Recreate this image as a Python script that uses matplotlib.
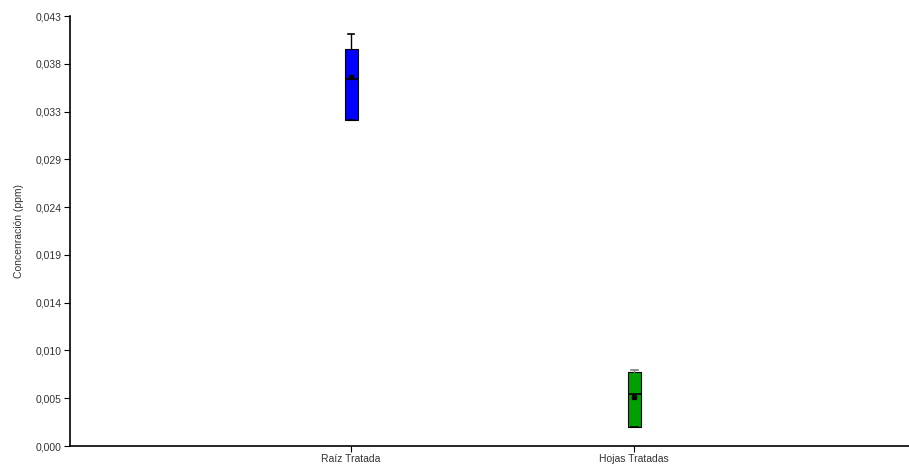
import matplotlib
matplotlib.use("Agg")
import matplotlib.pyplot as plt
import numpy as np

plt.rcParams['font.family'] = ['Liberation Sans', 'DejaVu Sans']

# Resumen de las cajas por muestra
muestras = ["Raíz Tratada", "Hojas Tratadas"]
minimos = [0.0326, 0.0019]
q1 = [0.0326, 0.0019]
medianas = [0.0367, 0.0052]
medias = [0.0369, 0.0049]
q3 = [0.0397, 0.0074]
maximos = [0.0412, 0.0076]
colores = ["#0000ff", "#00a000"]

y_max = 0.043
n_ticks = 10

fig = plt.figure(figsize=(9.09, 4.68), dpi=100)
ax = fig.add_axes([70 / 909, 22 / 468, 839 / 909, 430 / 468])

stats = []
for i, nombre in enumerate(muestras):
    stats.append({
        "label": nombre,
        "whislo": minimos[i],
        "q1": q1[i],
        "med": medianas[i],
        "mean": medias[i],
        "q3": q3[i],
        "whishi": maximos[i],
    })

bp = ax.bxp(stats, positions=[1, 2], widths=0.046, patch_artist=True,
            showmeans=True, showfliers=False,
            medianprops=dict(color="black", linewidth=1.2),
            meanprops=dict(marker="s", markersize=3, markerfacecolor="black",
                           markeredgecolor="black"),
            whiskerprops=dict(color="black", linewidth=1),
            capprops=dict(color="black", linewidth=1.2),
            boxprops=dict(edgecolor="black", linewidth=0.8))

for caja, c in zip(bp["boxes"], colores):
    caja.set_facecolor(c)
# tope gris en la muestra de hojas
bp["caps"][3].set_color("#808080")
bp["whiskers"][3].set_color("#808080")

ax.set_xlim(0.007, 2.97)
ax.set_ylim(0, y_max)
ticks = np.linspace(0, y_max, n_ticks)
ax.set_yticks(ticks)
ax.set_yticklabels([f"{t:.3f}".replace(".", ",") for t in ticks])
ax.set_xticks([1, 2])
ax.set_xticklabels(muestras)

for s in ["top", "right"]:
    ax.spines[s].set_visible(False)
for s in ["left", "bottom"]:
    ax.spines[s].set_linewidth(1.2)
ax.tick_params(axis="both", labelsize=7.5, labelcolor="#333333",
               length=4, width=0.8, pad=2)
ax.set_ylabel("Concenración (ppm)", fontsize=7.5, color="#333333", labelpad=8)

fig.savefig("out.png", dpi=100)
